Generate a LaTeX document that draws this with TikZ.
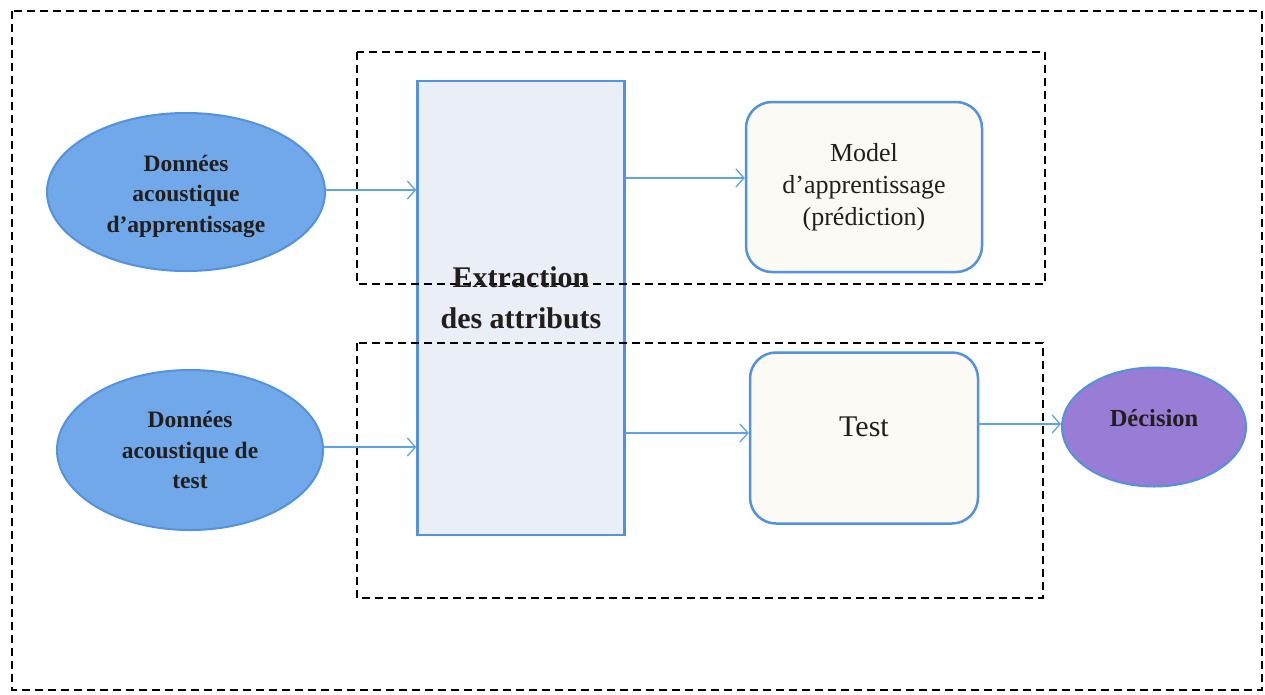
\documentclass[tikz,border=0pt]{standalone}
\usepackage{fontspec}
\setmainfont{Liberation Serif}
\usetikzlibrary{arrows.meta,shapes.geometric}
\definecolor{edgeblue}{RGB}{82,146,222}
\definecolor{datafill}{RGB}{112,168,234}
\definecolor{extfill}{RGB}{233,238,247}
\definecolor{boxfill}{RGB}{251,250,244}
\definecolor{decfill}{RGB}{152,124,214}
\definecolor{arrowblue}{RGB}{96,162,230}
\definecolor{ink}{RGB}{34,30,28}
\tikzset{
  frame/.style={draw=black, line width=2pt, dash pattern=on 8pt off 5pt},
  datanode/.style={ellipse, draw=edgeblue, line width=2pt, fill=datafill, inner sep=0pt},
  datatext/.style={text=ink, align=center, font=\fontsize{23.5}{30.5}\selectfont\bfseries, inner sep=0pt},
  extbox/.style={rectangle, draw=edgeblue, line width=2.5pt, fill=extfill, inner sep=0pt},
  exttext/.style={text=ink, align=center, font=\fontsize{30}{41}\selectfont\bfseries, inner sep=0pt},
  procbox/.style={rectangle, rounded corners=26pt, draw=edgeblue, line width=2.5pt,
    fill=boxfill, text=ink, align=center, font=\fontsize{26}{32}\selectfont, inner sep=0pt},
  testtext/.style={text=ink, font=\fontsize{30}{36}\selectfont, inner sep=0pt},
  decnode/.style={ellipse, draw=edgeblue, line width=2pt, fill=decfill, inner sep=0pt},
  dectext/.style={text=ink, font=\fontsize{24.5}{30}\selectfont\bfseries, inner sep=0pt},
  flow/.style={draw=arrowblue, line width=1.3pt,
    -{Straight Barb[length=8pt, width=18pt, line width=1.3pt]}}
}
\begin{document}
\begin{tikzpicture}[x=1pt, y=-1pt]
\useasboundingbox (0,0) rectangle (1265,694);
\fill[white] (0,0) rectangle (1265,694);

% feature extraction column (frames are drawn over it, its title over both)
\node[extbox, minimum width=207pt, minimum height=454pt] (ext) at (521,308) {};

% outer frame and the two stage frames
\draw[frame] (12,11) rectangle (1262,690);
\draw[frame] (357,52) rectangle (1045,284);
\draw[frame] (357,343) rectangle (1043,598);

\node[exttext] (exttitle) at ([yshift=10pt]ext.center) {Extraction\\des attributs};

% input data
\node[datanode, minimum width=278pt, minimum height=158pt,
  label={[datatext, yshift=-4pt]center:Données\\acoustique\\d’apprentissage}] (train) at (186,192) {};
\node[datanode, minimum width=266pt, minimum height=160pt,
  label={[datatext]center:Données\\acoustique de\\test}] (testdata) at (190,450) {};

% learning and test stages
\node[procbox, minimum width=236pt, minimum height=170pt] (model) at (864,187)
  {Model\\d’apprentissage\\(prédiction)};
\node[procbox, minimum width=228pt, minimum height=171pt,
  label={[testtext, yshift=11pt]center:Test}] (test) at (864,438) {};

% decision
\node[decnode, minimum width=184pt, minimum height=119pt,
  label={[dectext, yshift=9pt]center:Décision}] (dec) at (1154,427) {};

% connectors
\draw[flow] (train.east |- 0,190) -- (ext.west |- 0,190);
\draw[flow] (testdata.east |- 0,447) -- (ext.west |- 0,447);
\draw[flow] (ext.east |- 0,178) -- (model.west |- 0,178);
\draw[flow] (ext.east |- 0,433) -- (test.west |- 0,433);
\draw[flow] (test.east |- 0,424) -- (dec.west |- 0,424);
\end{tikzpicture}
\end{document}
